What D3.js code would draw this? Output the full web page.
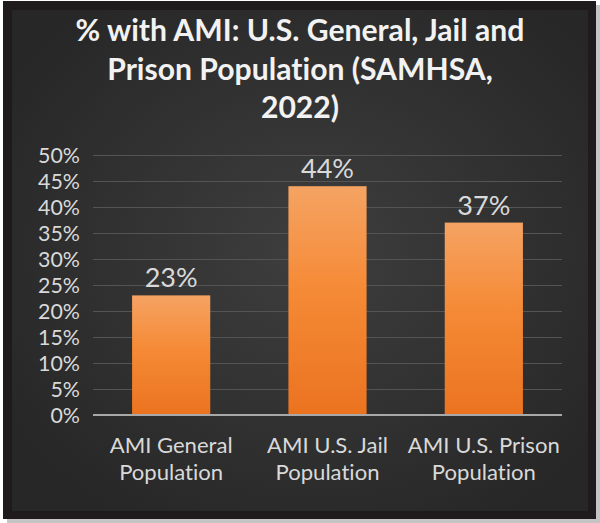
<!DOCTYPE html>
<html>
<head>
<meta charset="utf-8">
<script src="https://cdn.jsdelivr.net/npm/d3@7"></script>
<style>
  html, body { margin: 0; padding: 0; background: #ffffff; }
  svg { display: block; font-family: Lato, "Open Sans", sans-serif; font-variant-ligatures: none; font-feature-settings: "liga" 0, "clig" 0; }
</style>
</head>
<body>
<svg id="chart" width="600" height="523"></svg>
<script>
// Share of each population with any mental illness (AMI), percent
const categories = ["AMI General Population", "AMI U.S. Jail Population", "AMI U.S. Prison Population"];
const categoryLines = [["AMI General", "Population"], ["AMI U.S. Jail", "Population"], ["AMI U.S. Prison", "Population"]];
const values = [23, 44, 37];
const yTicks = [0, 5, 10, 15, 20, 25, 30, 35, 40, 45, 50];
const titleLines = ["% with AMI: U.S. General, Jail and", "Prison Population (SAMHSA,", "2022)"];

const svg = d3.select("#chart");
const defs = svg.append("defs");

// soft page shadow, dark frame and lit panel
const bg = defs.append("radialGradient").attr("id", "panel")
  .attr("cx", "52%").attr("cy", "48%").attr("r", "62%");
bg.append("stop").attr("offset", "0%").attr("stop-color", "#3e3e3e");
bg.append("stop").attr("offset", "100%").attr("stop-color", "#272727");

const barGrad = defs.append("linearGradient").attr("id", "barFill")
  .attr("x1", 0).attr("y1", 0).attr("x2", 0).attr("y2", 1);
barGrad.append("stop").attr("offset", "0%").attr("stop-color", "#f5a363");
barGrad.append("stop").attr("offset", "45%").attr("stop-color", "#f58a36");
barGrad.append("stop").attr("offset", "100%").attr("stop-color", "#eb7320");

svg.append("rect").attr("x", 7).attr("y", 5).attr("width", 593).attr("height", 518).attr("fill", "#c4c4c4");
svg.append("rect").attr("x", 3).attr("y", 1).attr("width", 593).attr("height", 518).attr("fill", "#1f1b1c");
svg.append("rect").attr("x", 12).attr("y", 10).attr("width", 576).attr("height", 501).attr("fill", "url(#panel)");

// scales
const x = d3.scaleBand().domain(categories).range([93, 562]).paddingInner(0.5).paddingOuter(0.25);
const y = d3.scaleLinear().domain([0, 50]).range([415, 155]);

// size a font so a sample string spans a given width
function fitSize(text, weight, base, target) {
  const t = svg.append("text").attr("font-size", base).attr("font-weight", weight).text(text);
  const w = t.node().getComputedTextLength();
  t.remove();
  return base * target / w;
}

// title
const titleSize = fitSize(titleLines[0], 700, 26, 449);
svg.append("g").selectAll("text").data(titleLines).join("text")
  .attr("x", 300).attr("y", (d, i) => 41 + i * 38.5)
  .attr("text-anchor", "middle")
  .attr("font-size", titleSize).attr("font-weight", 700)
  .attr("fill", "#f2f2f2")
  .text(d => d);

// gridlines
svg.append("g").selectAll("line").data(yTicks.filter(d => d > 0)).join("line")
  .attr("x1", 93).attr("x2", 562)
  .attr("y1", d => y(d) + 0.5).attr("y2", d => y(d) + 0.5)
  .attr("stroke", "#545454").attr("stroke-width", 1);

// y axis labels
const tickSize = fitSize("50%", 400, 20, 42);
const yAxis = svg.append("g").attr("transform", "translate(93,0)")
  .call(d3.axisLeft(y).tickValues(yTicks).tickSize(0).tickPadding(13).tickFormat(d => d + "%"));
yAxis.select(".domain").remove();
yAxis.selectAll("text").attr("font-size", tickSize).attr("font-family", "Lato, sans-serif")
  .attr("fill", "#d9d9d9").attr("dy", "0.35em");

// bars
svg.append("g").selectAll("rect").data(values).join("rect")
  .attr("x", (d, i) => x(categories[i]))
  .attr("y", d => y(d))
  .attr("width", x.bandwidth())
  .attr("height", d => y(0) - y(d))
  .attr("fill", "url(#barFill)");

// baseline
svg.append("line").attr("x1", 93).attr("x2", 562).attr("y1", y(0)).attr("y2", y(0))
  .attr("stroke", "#a8a8a8").attr("stroke-width", 2);

// value labels
const valueSize = fitSize("23%", 400, 28, 53);
svg.append("g").selectAll("text").data(values).join("text")
  .attr("x", (d, i) => x(categories[i]) + x.bandwidth() / 2)
  .attr("y", d => y(d) - 8)
  .attr("text-anchor", "middle")
  .attr("font-size", valueSize)
  .attr("fill", "#d9d9d9")
  .text(d => d + "%");

// category labels
const catSize = fitSize("AMI General", 400, 20, 123);
const cat = svg.append("g").selectAll("text").data(categoryLines).join("text")
  .attr("text-anchor", "middle")
  .attr("font-size", catSize)
  .attr("fill", "#d9d9d9");
cat.selectAll("tspan").data((d, i) => d.map(line => ({ line, i }))).join("tspan")
  .attr("x", d => x(categories[d.i]) + x.bandwidth() / 2)
  .attr("y", (d, j) => 453 + j * 27)
  .text(d => d.line);
</script>
</body>
</html>
